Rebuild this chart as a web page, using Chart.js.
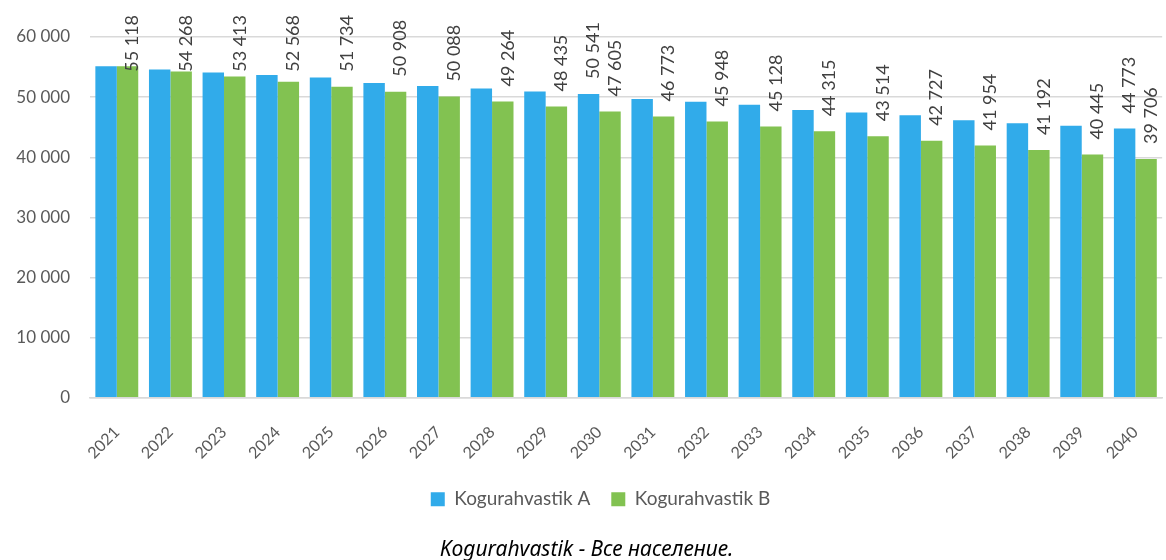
<!DOCTYPE html>
<html>
<head>
<meta charset="utf-8">
<script src="https://cdn.jsdelivr.net/npm/chart.js@4/dist/chart.umd.min.js"></script>
<style>
html, body { margin: 0; background: #fff; }
#wrap { width: 1166px; height: 560px; }
</style>
</head>
<body>
<div id="wrap"><canvas id="chart"></canvas></div>
<script>
const years = ['2021', '2022', '2023', '2024', '2025', '2026', '2027', '2028', '2029', '2030',
    '2031', '2032', '2033', '2034', '2035', '2036', '2037', '2038', '2039', '2040'];
const popA = [55118, 54600, 54100, 53700, 53250, 52350, 51850, 51450, 50950, 50541,
    49700, 49250, 48750, 47850, 47450, 47000, 46150, 45650, 45250, 44773];
const popB = [55118, 54268, 53413, 52568, 51734, 50908, 50088, 49264, 48435, 47605,
    46773, 45948, 45128, 44315, 43514, 42727, 41954, 41192, 40445, 39706];
const labelledA = ['2030', '2040'];

const fmt = v => String(v).replace(/\B(?=(\d{3})+(?!\d))/g, ' ');

// rotated value labels above the bars
const barLabels = {
    id: 'barLabels',
    afterDatasetsDraw(chart) {
        const ctx = chart.ctx;
        ctx.save();
        ctx.font = '18px Lato';
        ctx.fillStyle = '#404040';
        ctx.textAlign = 'left';
        ctx.textBaseline = 'middle';
        chart.data.datasets.forEach((ds, di) => {
            chart.getDatasetMeta(di).data.forEach((bar, i) => {
                if (di === 0 && !labelledA.includes(years[i])) return;
                const txt = fmt(ds.data[i]);
                const w = ctx.measureText(txt).width;
                let yb = bar.y - 15;
                if (yb - w < 15) yb = 15 + w;
                ctx.save();
                ctx.translate(bar.x + 5, yb);
                ctx.rotate(-Math.PI / 2);
                ctx.fillText(txt, 0, 0);
                ctx.restore();
            });
        });
        ctx.restore();
    }
};

// legend sits a little right of centre in the original
const legendNudge = {
    id: 'legendNudge',
    afterLayout(chart) {
        chart.legend.left += 14;
        chart.legend.right += 14;
    }
};

new Chart(document.getElementById('chart').getContext('2d'), {
    type: 'bar',
    data: {
        labels: years,
        datasets: [
            { label: 'Kogurahvastik A', data: popA, backgroundColor: '#31abea', categoryPercentage: 0.8, barPercentage: 1.0 },
            { label: 'Kogurahvastik B', data: popB, backgroundColor: '#82c251', categoryPercentage: 0.8, barPercentage: 1.0 }
        ]
    },
    options: {
        animation: false, responsive: true, maintainAspectRatio: false,
        layout: { padding: { top: 37, left: 10, right: 3, bottom: 0 } },
        plugins: {
            legend: {
                position: 'bottom',
                labels: { boxWidth: 14, boxHeight: 14, padding: 21, color: '#595959', font: { family: 'Lato', size: 19 } }
            },
            title: {
                display: true, position: 'bottom', text: 'Kogurahvastik - Все население.',
                color: '#000', font: { family: 'Noto Sans', size: 21, style: 'italic', weight: 'normal' },
                padding: { top: 19, bottom: -3 }
            },
            tooltip: { enabled: false }
        },
        scales: {
            x: {
                grid: { display: false },
                border: { color: '#d9d9d9', width: 1.5 },
                ticks: { color: '#595959', font: { family: 'Lato', size: 16 }, minRotation: 45, maxRotation: 45, padding: 17 },
                afterFit(s) { s.height = 71; }
            },
            y: {
                min: 0, max: 60000,
                ticks: { stepSize: 10000, color: '#595959', font: { family: 'Lato', size: 17 }, padding: 20, callback: v => fmt(v) },
                grid: { color: '#d9d9d9', lineWidth: 1.5, drawTicks: false },
                border: { display: false },
                afterFit(s) { s.width = 80; }
            }
        }
    },
    plugins: [barLabels, legendNudge]
});
</script>
</body>
</html>
